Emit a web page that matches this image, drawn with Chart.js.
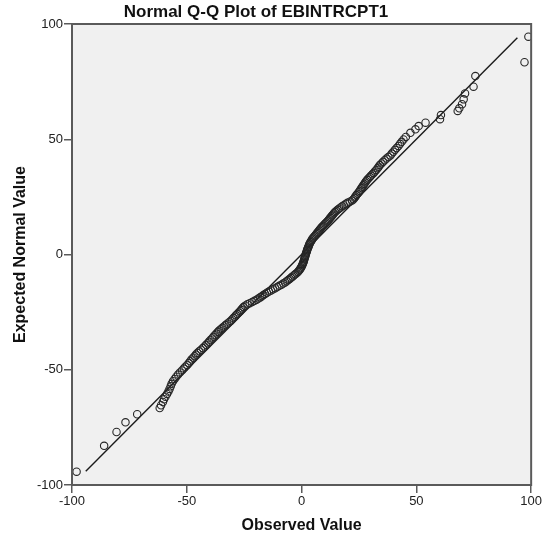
<!DOCTYPE html>
<html>
<head>
<meta charset="utf-8">
<script src="https://cdn.jsdelivr.net/npm/chart.js@4/dist/chart.umd.min.js"></script>
<style>
  html, body { margin: 0; padding: 0; background: #fff; }
  #wrap { width: 543px; height: 544px; }
</style>
</head>
<body>
<div id="wrap"><canvas id="qq"></canvas></div>
<script>
var observed = [-98, -86, -80.6, -76.7, -71.6, -61.8, -61.2, -60.4, -59.9, -59.3,
  -58.6, -58.0, -57.5, -57.0, -56.6, -56.0, -55.3, -54.6, -53.8, -53.0,
  -52.1, -51.3, -50.6, -49.8, -49.1, -48.5, -47.9, -47.2, -46.6, -46.0,
  -45.4, -44.6, -43.8, -43.0, -42.3, -41.6, -40.9, -40.3, -39.7, -39.0,
  -38.4, -37.8, -37.1, -36.5, -35.9, -35.2, -34.5, -33.8, -33.1, -32.4,
  -31.6, -30.9, -30.3, -29.7, -29.1, -28.6, -28.0, -27.4, -26.8, -26.3,
  -25.8, -25.3, -24.6, -23.6, -22.6, -21.5, -20.5, -19.6, -18.8, -18.0,
  -17.3, -16.6, -15.9, -15.1, -14.2, -13.3, -12.4, -11.5, -10.6, -9.7,
  -8.8, -8.0, -7.2, -6.5, -5.8, -5.2, -4.6, -4.0, -3.4, -2.8,
  -2.2, -1.6, -1.2, -0.8, -0.5, -0.2, 0.1, 0.3, 0.5, 0.7,
  0.9, 1.0, 1.2, 1.3, 1.5, 1.6, 1.8, 1.9, 2.1, 2.3,
  2.4, 2.6, 2.8, 3.0, 3.2, 3.4, 3.6, 3.9, 4.2, 4.5,
  4.8, 5.2, 5.6, 6.0, 6.4, 6.8, 7.2, 7.6, 8.0, 8.4,
  8.8, 9.3, 9.8, 10.3, 10.8, 11.3, 11.7, 12.1, 12.5, 12.9,
  13.3, 13.7, 14.1, 14.6, 15.1, 15.7, 16.3, 17.0, 17.7, 18.4,
  19.2, 20.0, 21.0, 22.0, 22.6, 23.1, 23.5, 23.9, 24.4, 24.9,
  25.3, 25.7, 26.1, 26.5, 26.9, 27.3, 27.7, 28.1, 28.6, 29.1,
  29.7, 30.2, 30.8, 31.4, 31.9, 32.5, 33.1, 33.6, 34.1, 34.8,
  35.5, 36.2, 37.0, 37.8, 38.7, 39.3, 40.0, 40.7, 41.4, 42.2,
  42.9, 43.6, 44.4, 45.4, 47.4, 49.6, 51.0, 54.0, 60.3, 60.7,
  68.0, 68.7, 69.9, 70.6, 71.2, 74.9, 75.7, 97.1, 98.8];
var expected = [-94.2, -83.0, -77.0, -72.8, -69.3, -66.6, -65.4, -64.0, -62.8, -61.7,
  -60.5, -59.4, -58.3, -57.2, -56.1, -55.0, -54.0, -53.0, -52.1, -51.2,
  -50.3, -49.5, -48.7, -47.9, -47.1, -46.3, -45.5, -44.8, -44.1, -43.4,
  -42.7, -42.0, -41.3, -40.6, -39.9, -39.2, -38.5, -37.8, -37.1, -36.4,
  -35.7, -35.0, -34.3, -33.6, -33.0, -32.4, -31.8, -31.2, -30.6, -30.0,
  -29.4, -28.8, -28.2, -27.6, -27.0, -26.4, -25.8, -25.2, -24.6, -24.0,
  -23.4, -22.8, -22.2, -21.6, -21.1, -20.6, -20.1, -19.6, -19.1, -18.6,
  -18.1, -17.6, -17.1, -16.6, -16.1, -15.6, -15.1, -14.6, -14.1, -13.6,
  -13.1, -12.6, -12.1, -11.6, -11.1, -10.6, -10.1, -9.6, -9.1, -8.6,
  -8.1, -7.6, -7.1, -6.6, -6.1, -5.6, -5.1, -4.6, -4.1, -3.6,
  -3.1, -2.6, -2.1, -1.6, -1.1, -0.6, -0.1, 0.4, 0.9, 1.4,
  1.9, 2.4, 2.9, 3.4, 3.9, 4.4, 4.9, 5.4, 5.9, 6.4,
  6.9, 7.4, 7.9, 8.4, 8.9, 9.4, 9.9, 10.4, 10.9, 11.4,
  11.9, 12.4, 12.9, 13.4, 13.9, 14.4, 14.9, 15.4, 15.9, 16.4,
  16.9, 17.4, 17.9, 18.4, 18.9, 19.4, 19.9, 20.4, 20.9, 21.4,
  21.9, 22.4, 22.9, 23.4, 24.0, 24.6, 25.2, 25.8, 26.4, 27.0,
  27.6, 28.2, 28.8, 29.4, 30.0, 30.6, 31.2, 31.8, 32.4, 33.0,
  33.6, 34.2, 34.8, 35.4, 36.0, 36.7, 37.4, 38.1, 38.8, 39.5,
  40.2, 40.9, 41.6, 42.3, 43.0, 43.8, 44.6, 45.4, 46.2, 47.1,
  48.0, 48.9, 49.9, 51.0, 52.8, 54.3, 55.7, 57.2, 58.7, 60.5,
  62.3, 63.4, 65.2, 67.3, 69.9, 72.8, 77.4, 83.4, 94.5];

// reference line end points
var lineX = [-94, 94];
var lineY = [-94, 94];

var xTicks = [-100, -50, 0, 50, 100];
var yTicks = [-100, -50, 0, 50, 100];

var titleText = "Normal Q-Q Plot of EBINTRCPT1";
var xTitle = "Observed Value";
var yTitle = "Expected Normal Value";

var pts = [];
for (let i = 0; i < observed.length; i++) {
  pts.push({x: observed[i], y: expected[i]});
}
var linePts = [];
for (let i = 0; i < lineX.length; i++) {
  linePts.push({x: lineX[i], y: lineY[i]});
}

var FONT = "'Liberation Sans', Arial, sans-serif";

var plotFrame = {
  id: "plotFrame",
  beforeDatasetsDraw(chart) {
    const a = chart.chartArea, ctx = chart.ctx;
    ctx.save();
    ctx.fillStyle = "#f0f0f0";
    ctx.fillRect(a.left, a.top, a.right - a.left, a.bottom - a.top);
    ctx.restore();
  },
  afterDraw(chart) {
    const a = chart.chartArea, ctx = chart.ctx;
    ctx.save();
    ctx.strokeStyle = "#5a5a5a";
    ctx.lineWidth = 2;
    ctx.strokeRect(a.left, a.top, a.right - a.left, a.bottom - a.top);
    // title
    ctx.fillStyle = "#111";
    ctx.font = "bold 17px " + FONT;
    ctx.textAlign = "center";
    ctx.textBaseline = "alphabetic";
    ctx.fillText(titleText, 256, 17);
    ctx.restore();
  }
};

new Chart(document.getElementById("qq"), {
  type: "scatter",
  data: {
    datasets: [{
      data: pts,
      pointStyle: "circle",
      pointRadius: 3.7,
      pointHoverRadius: 3.7,
      borderColor: "#262626",
      borderWidth: 1.1,
      backgroundColor: "rgba(0,0,0,0)"
    }, {
      type: "line",
      data: linePts,
      borderColor: "#1a1a1a",
      borderWidth: 1.4,
      pointRadius: 0,
      fill: false
    }]
  },
  options: {
    responsive: true,
    maintainAspectRatio: false,
    animation: false,
    layout: {padding: {left: 0, right: 11, top: 24, bottom: 0}},
    plugins: {
      legend: {display: false},
      tooltip: {enabled: false},
      title: {display: false}
    },
    scales: {
      x: {
        type: "linear",
        min: -100, max: 100,
        afterBuildTicks: function(s) { s.ticks = xTicks.map(v => ({value: v})); },
        afterFit: function(s) { s.height = 59; },
        grid: {drawOnChartArea: false, drawTicks: true, tickLength: 8, color: "#5a5a5a", lineWidth: 1.5},
        border: {display: false},
        ticks: {color: "#222", font: {family: FONT, size: 13}, padding: 1, maxRotation: 0},
        title: {display: true, text: xTitle, color: "#111", font: {family: FONT, size: 16, weight: "bold"}, padding: {top: 0, bottom: 9}}
      },
      y: {
        type: "linear",
        min: -100, max: 100,
        afterBuildTicks: function(s) { s.ticks = yTicks.map(v => ({value: v})); },
        afterFit: function(s) { s.width = 72; },
        grid: {drawOnChartArea: false, drawTicks: true, tickLength: 8, color: "#5a5a5a", lineWidth: 1.5},
        border: {display: false},
        ticks: {color: "#222", font: {family: FONT, size: 13}, padding: 1},
        title: {display: true, text: yTitle, color: "#111", font: {family: FONT, size: 16, weight: "bold"}, padding: {top: 11, bottom: 0}}
      }
    }
  },
  plugins: [plotFrame]
});
</script>
</body>
</html>
